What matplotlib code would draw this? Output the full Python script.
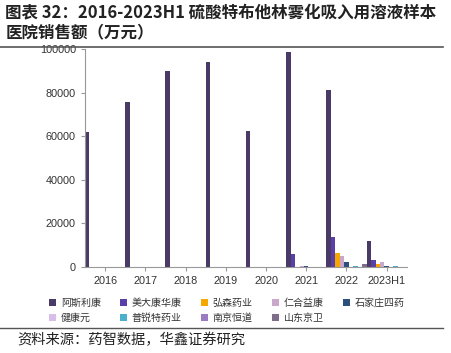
import matplotlib
matplotlib.use("Agg")
import matplotlib.pyplot as plt
from matplotlib.patches import Patch
import numpy as np

plt.rcParams['font.family'] = ['Noto Sans CJK SC', 'DejaVu Sans']

years = ['2016', '2017', '2018', '2019', '2020', '2021', '2022', '2023H1']
companies = ['阿斯利康', '美大康华康', '弘森药业', '仁合益康', '石家庄四药',
             '健康元', '普锐特药业', '南京恒道', '山东京卫']
colors = ['#4a3b66', '#5a3fa8', '#f7a800', '#c9a8cb', '#2d4f7c',
          '#d9bde9', '#4bb0cc', '#9a7cc2', '#7e6e8c']

s_asl = [61800, 75600, 90000, 94000, 62400, 98600, 81200, 11900]
s_mdk = [0, 0, 0, 0, 0, 6000, 13800, 3200]
s_hs = [0, 0, 0, 0, 0, 0, 6400, 1300]
s_rh = [0, 0, 0, 0, 0, 500, 5000, 2100]
s_sjz = [0, 0, 0, 0, 0, 300, 2400, 500]
s_jky = [0, 0, 0, 0, 0, 0, 200, 200]
s_prt = [0, 0, 0, 0, 0, 0, 300, 300]
s_nj = [0, 0, 0, 0, 0, 0, 100, 100]
s_sd = [0, 0, 0, 0, 0, 0, 1200, 0]
series = [s_asl, s_mdk, s_hs, s_rh, s_sjz, s_jky, s_prt, s_nj, s_sd]

fig = plt.figure(figsize=(4.52, 3.53), dpi=100)
ax = fig.add_axes([0.188, 0.2436, 0.712, 0.6174])

x = np.arange(len(years))
n = len(series)
w = 1.0 / n
for k, (vals, c) in enumerate(zip(series, colors)):
    ax.bar(x - 0.5 + (k + 0.5) * w, vals, width=w, color=c, linewidth=0)

ax.set_xlim(-0.5, len(years) - 0.5)
ax.set_ylim(0, 100000)
ax.set_yticks(np.arange(0, 100001, 20000))
ax.set_xticks(x)
ax.set_xticklabels(years)
for s in ['top', 'right']:
    ax.spines[s].set_visible(False)
for s in ['left', 'bottom']:
    ax.spines[s].set_color('#999999')
    ax.spines[s].set_linewidth(0.8)
ax.tick_params(axis='both', colors='#999999', labelcolor='#333333',
               labelsize=7.8, length=3, width=0.8)
for lab in ax.get_xticklabels() + ax.get_yticklabels():
    lab.set_family(['Liberation Sans', 'DejaVu Sans'])

# legend filled row-wise like the reference (matplotlib fills column-wise)
order = [0, 5, 1, 6, 2, 7, 3, 8, 4]
handles = [Patch(facecolor=colors[i], edgecolor='none') for i in order]
labels = [companies[i] for i in order]
leg = fig.legend(handles, labels, loc='upper left', bbox_to_anchor=(0.108, 0.157),
                 ncol=5, frameon=False, fontsize=7.2, handlelength=0.7, handleheight=0.7,
                 handletextpad=0.5, columnspacing=1.9, labelspacing=0.55,
                 borderaxespad=0, borderpad=0)
for t in leg.get_texts():
    t.set_color('#333333')

fig.text(0.012, 0.965, '图表 32：2016-2023H1 硫酸特布他林雾化吸入用溶液样本',
         fontsize=11.9, fontweight='bold', va='center', ha='left', color='#222222')
fig.text(0.012, 0.908, '医院销售额（万元）',
         fontsize=11.9, fontweight='bold', va='center', ha='left', color='#222222')
fig.add_artist(plt.Line2D([0.0, 0.98], [0.867, 0.867], color='#555555', lw=1.2))
fig.add_artist(plt.Line2D([0.0, 0.98], [0.071, 0.071], color='#555555', lw=1.0))
fig.text(0.038, 0.038, '资料来源：药智数据，华鑫证券研究', fontsize=10.3,
         va='center', ha='left', color='#222222')

fig.savefig('out.png', dpi=100)
